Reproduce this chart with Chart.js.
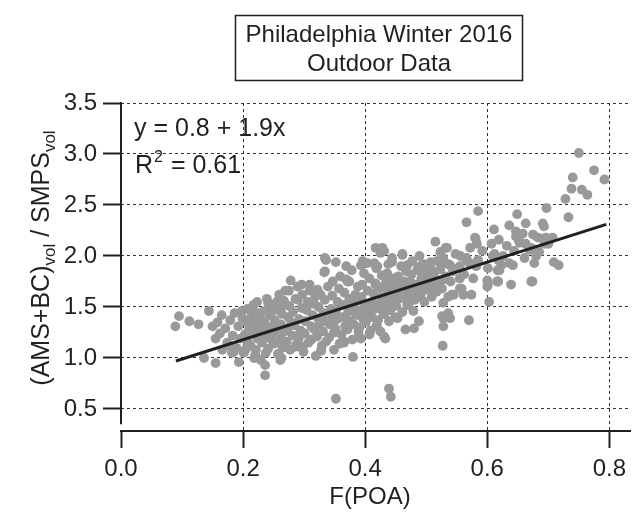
<!DOCTYPE html>
<html><head><meta charset="utf-8">
<script src="https://cdn.jsdelivr.net/npm/chart.js@4.4.1/dist/chart.umd.min.js"></script>
<style>html,body{margin:0;padding:0;background:#fff}#wrap{width:635px;height:516px}</style>
</head><body><div id="wrap"><canvas id="c" width="635" height="516"></canvas></div>
<script>
const titleLines = ['Philadelphia Winter 2016', 'Outdoor Data'];
const xTitle = 'F(POA)';
const yTitleParts = ['(AMS+BC)', 'vol', ' / SMPS', 'vol'];
const fitEquation = 'y = 0.8 + 1.9x';
const fitR2 = ['R', '2', ' = 0.61'];
const xTicks = [0, 0.2, 0.4, 0.6, 0.8];
const yTicks = [0.5, 1.0, 1.5, 2.0, 2.5, 3.0, 3.5];
const xRange = [0, 0.834];
const yRange = [0.284, 3.5];
const yAxisLineRange = [0.35, 3.5];
const fitLine = [[0.09, 0.97], [0.795, 2.31]];

// F(POA) vs (AMS+BC)vol / SMPSvol
const points = [
[0.750,3.01],[0.775,2.84],[0.792,2.75],[0.740,2.77],[0.738,2.66],[0.755,2.65],[0.764,2.60],[0.728,2.56],[0.697,2.47],[0.733,2.38],
[0.585,2.44],[0.566,2.33],[0.649,2.41],[0.636,2.30],[0.663,2.32],[0.691,2.32],[0.693,2.29],[0.647,2.24],[0.658,2.22],[0.675,2.21],
[0.611,2.26],[0.619,2.16],[0.607,2.12],[0.581,2.17],[0.583,2.12],[0.515,2.14],[0.532,2.08],[0.523,2.04],[0.417,2.08],[0.431,2.05],
[0.461,2.02],[0.691,2.17],[0.707,2.18],[0.700,2.12],[0.663,2.12],[0.669,2.06],[0.685,2.04],
[0.717,1.91],[0.709,1.94],[0.677,1.93],[0.680,2.03],[0.674,1.75],[0.639,1.72],[0.616,1.75],[0.600,1.76],[0.600,1.70],
[0.603,1.55],[0.617,1.86],[0.623,1.91],[0.636,1.93],[0.642,1.91],[0.615,1.99],[0.582,1.90],[0.585,1.96],[0.571,1.93],[0.566,1.96],
[0.561,1.82],[0.558,1.68],[0.561,1.62],[0.542,1.62],[0.536,1.60],[0.528,1.54],[0.570,1.37],[0.536,1.44],[0.528,1.39],[0.539,1.39],
[0.528,1.31],[0.527,1.12],[0.488,1.36],[0.480,1.29],[0.466,1.28],[0.512,1.68],[0.517,1.65],[0.528,1.77],[0.555,1.90],[0.539,1.91],
[0.528,1.93],[0.507,1.94],[0.507,1.83],[0.490,1.90],[0.469,1.91],[0.453,1.39],[0.433,1.19],[0.407,1.23],[0.393,1.19],[0.380,1.01],
[0.365,1.15],[0.349,1.08],[0.328,1.07],[0.296,1.10],[0.439,0.70],[0.442,0.62],[0.352,0.60],[0.334,1.98],[0.352,1.94],[0.369,1.90],
[0.333,1.84],[0.347,1.75],[0.371,1.75],[0.417,1.73],[0.420,1.90],[0.436,1.83],[0.444,1.94],[0.461,2.01],[0.393,1.91],[0.404,1.93],[0.425,2.03],
[0.095,1.41],[0.089,1.31],[0.112,1.36],[0.127,1.33],[0.144,1.46],[0.165,1.42],[0.136,1.00],[0.155,0.95],[0.185,1.06],[0.193,0.96],
[0.223,1.55],[0.241,1.54],[0.255,1.55],[0.220,1.01],[0.236,0.93],[0.236,0.83],[0.261,0.98],[0.278,1.76],[0.275,1.66],[0.198,1.46],
[0.215,1.46],[0.150,1.31],[0.155,1.19],[0.204,1.08],[0.220,1.03],[0.182,1.05],[0.174,1.15],[0.290,1.57],
[0.336,1.96],[0.334,1.85],[0.296,1.72],[0.309,1.72],[0.322,1.67],[0.374,1.75],[0.388,1.70],[0.396,1.95],[0.415,1.93],[0.263,1.50],
[0.263,1.18],[0.263,1.00],[0.328,1.08],[0.366,1.16],[0.390,1.21],[0.298,1.11],[0.285,1.11],[0.312,1.18],
[0.534,2.08],[0.580,2.18],[0.428,2.08],[0.444,1.98],[0.520,1.95],[0.566,1.98],[0.555,1.78],[0.555,1.68],[0.545,1.62],[0.526,1.41],
[0.425,1.26],[0.431,1.21],[0.490,1.85],[0.474,1.75],[0.501,1.75],[0.509,1.82],[0.482,1.60],[0.469,1.52],
[0.609,2.00],[0.618,1.96],[0.620,1.86],[0.680,2.00],[0.601,1.72],[0.618,1.75],[0.672,1.75],[0.574,1.62],[0.647,2.19],[0.696,2.18],[0.653,2.13],
[0.171,1.29],[0.176,1.12],[0.179,1.37],[0.183,1.22],[0.186,1.44],[0.189,1.10],[0.192,1.31],[0.196,1.19],[0.199,1.39],[0.162,1.24],[0.166,1.08],[0.158,1.35],
[0.201,1.05],[0.203,1.23],[0.205,1.35],[0.207,1.48],[0.208,1.15],[0.210,1.29],
[0.212,1.12],[0.213,1.40],[0.215,1.26],[0.217,1.52],[0.218,1.00],[0.219,1.33],
[0.221,1.08],[0.223,1.19],[0.224,1.31],[0.226,1.44],[0.227,1.24],[0.228,1.38],[0.229,0.98],
[0.231,1.15],[0.232,1.27],[0.234,1.46],[0.235,1.36],[0.237,1.05],[0.238,1.21],[0.239,1.58],
[0.241,1.09],[0.243,1.30],[0.244,1.42],[0.246,1.18],[0.247,1.50],[0.249,1.25],
[0.251,1.14],[0.252,1.37],[0.254,1.28],[0.256,1.47],[0.257,1.04],[0.259,1.62],
[0.261,1.20],[0.262,1.33],[0.264,1.43],[0.265,1.10],[0.267,1.56],[0.268,1.26],[0.269,1.66],
[0.271,1.16],[0.273,1.29],[0.274,1.40],[0.276,1.51],[0.277,1.08],[0.279,1.35],
[0.281,1.22],[0.282,1.45],[0.284,1.32],[0.286,1.58],[0.287,1.13],[0.289,1.70],
[0.291,1.19],[0.292,1.38],[0.294,1.27],[0.296,1.49],[0.297,1.62],[0.299,1.06],
[0.301,1.24],[0.302,1.36],[0.304,1.47],[0.306,1.55],[0.307,1.15],[0.309,1.66],
[0.311,1.18],[0.312,1.31],[0.314,1.42],[0.316,1.53],[0.317,1.28],[0.318,1.60],[0.319,1.02],
[0.321,1.21],[0.323,1.39],[0.324,1.50],[0.326,1.34],[0.327,1.62],[0.329,1.12],
[0.331,1.26],[0.332,1.44],[0.334,1.57],[0.336,1.16],[0.337,1.36],[0.339,1.70],
[0.341,1.20],[0.342,1.33],[0.344,1.48],[0.346,1.61],[0.347,1.41],[0.349,1.25],
[0.351,1.29],[0.352,1.46],[0.354,1.38],[0.355,1.55],[0.357,1.68],[0.358,1.14],[0.359,1.80],
[0.361,1.23],[0.363,1.40],[0.364,1.52],[0.366,1.64],[0.367,1.31],[0.369,1.77],
[0.371,1.28],[0.372,1.45],[0.374,1.58],[0.375,1.36],[0.377,1.50],[0.378,1.86],[0.379,1.18],
[0.381,1.33],[0.383,1.49],[0.384,1.62],[0.386,1.42],[0.387,1.56],[0.389,1.26],
[0.391,1.30],[0.392,1.46],[0.394,1.60],[0.395,1.72],[0.397,1.38],[0.398,1.83],[0.399,1.52],
[0.401,1.35],[0.403,1.51],[0.404,1.66],[0.406,1.44],[0.407,1.78],[0.409,1.27],
[0.411,1.40],[0.412,1.55],[0.414,1.63],[0.415,1.48],[0.417,1.72],[0.418,1.88],[0.419,1.32],
[0.421,1.37],[0.423,1.52],[0.424,1.69],[0.426,1.60],[0.427,1.81],[0.429,1.45],
[0.431,1.43],[0.432,1.58],[0.434,1.74],[0.435,1.50],[0.437,1.66],[0.438,1.92],[0.439,1.36],
[0.441,1.47],[0.443,1.62],[0.444,1.55],[0.446,1.78],[0.447,1.70],[0.449,1.40],
[0.451,1.51],[0.452,1.66],[0.454,1.80],[0.455,1.58],[0.457,1.73],[0.459,1.90],
[0.461,1.45],[0.463,1.60],[0.464,1.75],[0.466,1.68],[0.467,1.85],[0.469,1.55],
[0.471,1.52],[0.472,1.70],[0.474,1.63],[0.476,1.82],[0.477,1.95],[0.479,1.46],
[0.481,1.57],[0.483,1.72],[0.484,1.66],[0.486,1.88],[0.487,1.60],[0.489,2.00],
[0.491,1.62],[0.492,1.78],[0.494,1.70],[0.496,1.92],[0.497,1.55],[0.499,1.85],
[0.501,1.67],[0.503,1.80],[0.505,1.73],[0.507,1.88],[0.509,1.60],
[0.511,1.70],[0.513,1.84],[0.516,1.77],[0.518,1.95],
[0.521,1.73],[0.523,1.87],[0.526,1.68],[0.528,1.98],
[0.532,1.80],[0.536,1.92],[0.540,1.75],[0.544,1.85],[0.548,2.02],
[0.552,1.88],[0.556,2.00],[0.562,1.82],[0.567,1.95],[0.572,2.08],[0.577,1.78],
[0.584,1.95],[0.592,2.05],[0.601,1.88],[0.612,2.02],
[0.626,2.00],[0.632,2.10],[0.644,2.05],[0.652,2.15],[0.661,1.98],[0.672,2.08],[0.683,2.18],[0.694,2.12]
];

const FONT = "'Liberation Sans', Arial, Helvetica, sans-serif";
const TICK_PX = 24;

const decor = {
  id: 'decor',
  afterDraw(chart) {
    const ctx = chart.ctx;
    const xs = chart.scales.x, ys = chart.scales.y;
    ctx.save();
    // y axis line
    ctx.strokeStyle = '#231f20';
    ctx.lineWidth = 2;
    ctx.beginPath();
    const ax = xs.getPixelForValue(0);
    ctx.moveTo(ax, ys.getPixelForValue(yAxisLineRange[1]) - 1);
    ctx.lineTo(ax, ys.getPixelForValue(yAxisLineRange[0]));
    ctx.stroke();
    // title box
    ctx.lineWidth = 1.5;
    ctx.strokeRect(235.5, 15.5, 287, 65);
    ctx.fillStyle = '#231f20';
    ctx.font = `24px ${FONT}`;
    ctx.textAlign = 'center';
    ctx.textBaseline = 'alphabetic';
    ctx.fillText(titleLines[0], 379, 42);
    ctx.fillText(titleLines[1], 379, 71);
    // fit equation
    ctx.textAlign = 'left';
    ctx.font = `25px ${FONT}`;
    ctx.fillText(fitEquation, 134, 136);
    ctx.fillText(fitR2[0], 135, 173);
    let w = ctx.measureText(fitR2[0]).width;
    ctx.font = `16px ${FONT}`;
    ctx.fillText(fitR2[1], 135 + w + 1, 162);
    const w2 = ctx.measureText(fitR2[1]).width;
    ctx.font = `25px ${FONT}`;
    ctx.fillText(fitR2[2], 135 + w + w2 + 2, 173);
    // x title
    ctx.textAlign = 'center';
    ctx.font = `24px ${FONT}`;
    ctx.fillText(xTitle, 370, 504);
    // y title (rotated, with subscripts)
    ctx.translate(49, 258);
    ctx.rotate(-Math.PI / 2);
    const fonts = [`25px ${FONT}`, `17px ${FONT}`, `25px ${FONT}`, `17px ${FONT}`];
    const shifts = [0, 6, 0, 6];
    let total = 0;
    const widths = yTitleParts.map((t, i) => { ctx.font = fonts[i]; const m = ctx.measureText(t).width; total += m; return m; });
    let cx = -total / 2;
    ctx.textAlign = 'left';
    yTitleParts.forEach((t, i) => { ctx.font = fonts[i]; ctx.fillText(t, cx, shifts[i]); cx += widths[i]; });
    ctx.restore();
  }
};

new Chart(document.getElementById('c'), {
  data: {
    datasets: [
      { type: 'line', data: fitLine.map(([x, y]) => ({ x, y })), borderColor: '#231f20', borderWidth: 3,
        pointRadius: 0, fill: false, order: 0 },
      { type: 'scatter', data: points.map(([x, y]) => ({ x, y })), backgroundColor: '#999999', borderWidth: 0,
        pointRadius: 4.9, pointHoverRadius: 4.9, order: 1 }
    ]
  },
  options: {
    responsive: false, animation: false, devicePixelRatio: 1, events: [],
    layout: { padding: { top: 103, left: 0, right: 0, bottom: 0 } },
    plugins: { legend: { display: false }, tooltip: { enabled: false }, title: { display: false } },
    scales: {
      x: {
        type: 'linear', min: xRange[0], max: xRange[1],
        afterBuildTicks: s => { s.ticks = xTicks.map(v => ({ value: v })); },
        afterFit: s => { s.height = 85; },
        grid: { color: c => (c.tick && c.tick.value === 0) ? 'rgba(0,0,0,0)' : '#333', lineWidth: 1,
                tickLength: 17, tickColor: '#231f20', tickWidth: 2, tickBorderDash: [] },
        border: { display: true, color: '#231f20', width: 2, dash: [3, 3] },
        ticks: { color: '#231f20', font: { family: FONT, size: TICK_PX }, padding: 7, maxRotation: 0,
                 callback: v => Number(v).toFixed(1) }
      },
      y: {
        type: 'linear', min: yRange[0], max: yRange[1],
        afterBuildTicks: s => { s.ticks = yTicks.map(v => ({ value: v })); },
        afterFit: s => { s.width = 121; },
        grid: { color: '#333', lineWidth: 1, tickLength: 18, tickColor: '#231f20', tickWidth: 2, tickBorderDash: [] },
        border: { display: false, dash: [3, 3] },
        ticks: { color: '#231f20', font: { family: FONT, size: TICK_PX }, padding: 6,
                 callback: v => Number(v).toFixed(1) }
      }
    }
  },
  plugins: [decor]
});
</script></body></html>
